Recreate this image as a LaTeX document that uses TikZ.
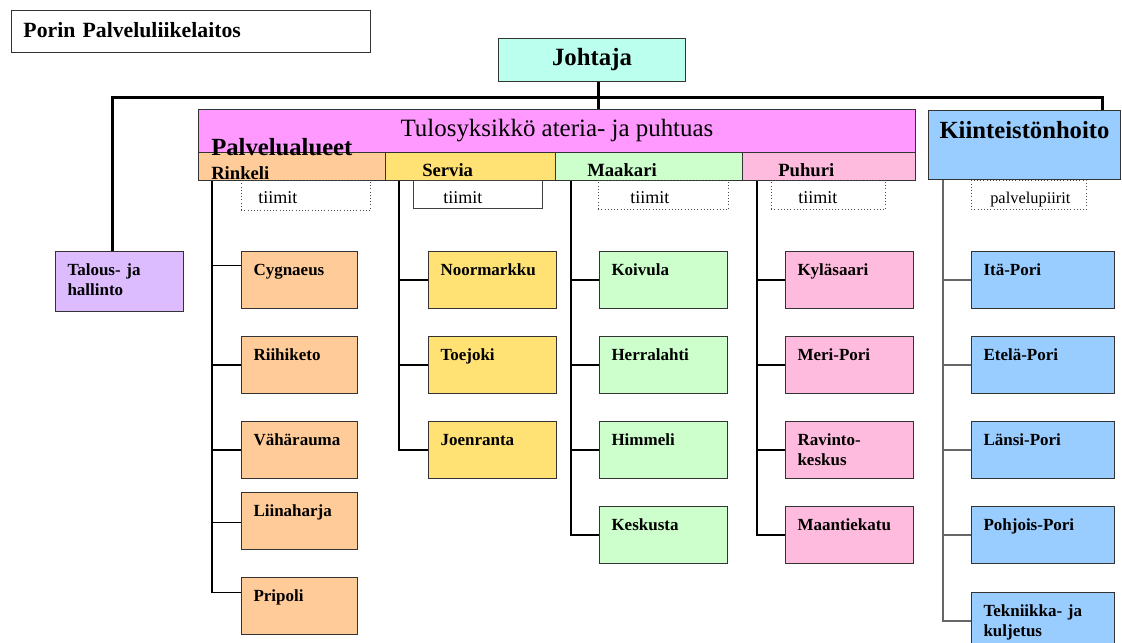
\documentclass[tikz,border=0pt]{standalone}
\usepackage{fontspec}
\setmainfont{Liberation Serif}
\usetikzlibrary{positioning}
\usetikzlibrary{calc}

\definecolor{johtajafill}{RGB}{187,255,238}
\definecolor{tulosfill}{RGB}{255,153,255}
\definecolor{rinkelifill}{RGB}{255,204,153}
\definecolor{serviafill}{RGB}{255,226,115}
\definecolor{maakarifill}{RGB}{204,255,204}
\definecolor{puhurifill}{RGB}{255,187,221}
\definecolor{kiintfill}{RGB}{153,204,255}
\definecolor{talousfill}{RGB}{221,187,255}

\tikzset{
  unitbox/.style={draw=black!80, line width=0.75pt, anchor=north west,
    inner xsep=9pt, inner ysep=0pt, align=left,
    text height=18pt, text depth=24.75pt,
    font=\fontsize{12.75}{15}\selectfont\bfseries},
  headbox/.style={draw=black!80, line width=0.75pt, anchor=north west,
    inner sep=0pt, minimum height=21pt},
  sublabel/.style={anchor=base west, inner sep=0pt,
    font=\fontsize{14}{16}\selectfont\bfseries},
  teamtag/.style={anchor=north west, inner ysep=0pt, align=left,
    text height=17.25pt, text depth=4.5pt,
    font=\fontsize{13.5}{15}\selectfont},
  busline/.style={line width=2.25pt, black},
  branch/.style={line width=0.9pt, black}
}

\begin{document}
\begin{tikzpicture}[x=0.75pt,y=-0.75pt]
  \useasboundingbox (0,0) rectangle (1122,643);

  % top of the chart
  \node[draw=black!80, line width=0.75pt, anchor=north west, inner xsep=9pt,
    inner ysep=0pt, align=left, text width=251.25pt, text height=20.25pt,
    text depth=11.25pt, font=\fontsize{16.3}{18}\selectfont\bfseries]
    (porin) at (11,10) {Porin Palveluliikelaitos};
  \node[draw=black!80, line width=0.75pt, fill=johtajafill, anchor=north west,
    inner sep=0pt, minimum width=140.25pt, minimum height=32.25pt,
    font=\fontsize{18.6}{20}\selectfont\bfseries]
    (johtaja) at (498,38) {Johtaja};

  \node[headbox, fill=tulosfill, minimum width=537.75pt, minimum height=32.25pt,
    font=\fontsize{18.7}{20}\selectfont] (tulos) at (198,109)
    {Tulosyksikkö ateria- ja puhtuas};
  \node[headbox, fill=rinkelifill, minimum width=140.25pt] (rinkeli) at (198,152) {};
  \node[headbox, fill=serviafill, minimum width=127.5pt] (servia) at (385,152) {};
  \node[headbox, fill=maakarifill, minimum width=140.25pt] (maakari) at (555,152) {};
  \node[headbox, fill=puhurifill, minimum width=129.75pt] (puhuri) at (742,152) {};
  \node[sublabel, font=\fontsize{18.5}{20}\selectfont\bfseries] (palvelu) at (211,155) {Palvelualueet};
  \node[sublabel] (rinkelitxt) at (211,179) {Rinkeli};
  \node[sublabel] (serviatxt) at (422,176) {Servia};
  \node[sublabel] (maakaritxt) at (587,176) {Maakari};
  \node[sublabel] (puhuritxt) at (778,176) {Puhuri};

  \node[draw=black!80, line width=0.75pt, fill=kiintfill, anchor=north west,
    inner sep=0pt, align=center, text width=144pt, text height=21pt,
    text depth=30.75pt, font=\fontsize{18.5}{20}\selectfont\bfseries]
    (kiint) at (928,110) {Kiinteistönhoito};

  \node[unitbox, fill=talousfill, text width=78pt, text depth=27pt]
    (talous) at (55,251) {Talous- ja\\hallinto};

  % tiimit
  \node[teamtag, draw=black!70, dotted, inner xsep=12.75pt, text width=71.25pt,
    text depth=5.25pt] (rtiimit) at (241,180) {tiimit};
  \node[teamtag, draw=black!75, inner xsep=22.5pt, text width=51.75pt,
    text depth=3.75pt] (stiimit) at (413,180) {tiimit};
  \node[teamtag, draw=black!70, dotted, inner xsep=24pt, text width=49.5pt]
    (mtiimit) at (598,180) {tiimit};
  \node[teamtag, draw=black!70, dotted, inner xsep=20.25pt, text width=45pt]
    (ptiimit) at (771,180) {tiimit};
  \node[teamtag, draw=black!70, dotted, inner xsep=14.25pt, text width=57.75pt,
    font=\fontsize{12.3}{14}\selectfont] (kpiirit) at (971,180) {palvelupiirit};

  % units
  \foreach \n/\t/\y in {cygnaeus/Cygnaeus/251, riihiketo/Riihiketo/336,
      vaharauma/Vähärauma/421, liinaharja/Liinaharja/492, pripoli/Pripoli/577}
    \node[unitbox, fill=rinkelifill, text width=69pt] (\n) at (241,\y) {\t};
  \foreach \n/\t/\y in {noormarkku/Noormarkku/251, toejoki/Toejoki/336, joenranta/Joenranta/421}
    \node[unitbox, fill=serviafill, text width=78pt] (\n) at (428,\y) {\t};
  \foreach \n/\t/\y in {koivula/Koivula/251, herralahti/Herralahti/336, himmeli/Himmeli/421,
      keskusta/Keskusta/506}
    \node[unitbox, fill=maakarifill, text width=78pt] (\n) at (599,\y) {\t};
  \foreach \n/\t/\y in {kylasaari/Kyläsaari/251, meripori/Meri-Pori/336,
      ravinto/{Ravinto-\\keskus}/421, maantiekatu/Maantiekatu/506}
    \node[unitbox, fill=puhurifill, text width=78pt] (\n) at (785,\y) {\t};
  \foreach \n/\t/\y in {itapori/Itä-Pori/251, etelapori/Etelä-Pori/336, lansipori/Länsi-Pori/421,
      pohjoispori/Pohjois-Pori/506, tekniikka/{Tekniikka- ja\\kuljetus}/592}
    \node[unitbox, fill=kiintfill, text width=89.25pt] (\n) at (971,\y) {\t};

  % thick lines from Johtaja
  \path ([xshift=4.5pt]johtaja.south) ++(0,15) coordinate (bus);
  \coordinate (talousin) at ([xshift=-5pt]talous.north);
  \coordinate (kiintin) at ([xshift=-14.25pt]kiint.north east);
  \draw[busline] (johtaja.south -| bus) -- (bus);
  \draw[busline] (talousin) -- (talousin |- bus) -- (kiintin |- bus) -- (kiintin);
  \draw[busline] (bus) -- (tulos.north -| bus);

  % trunks and branches
  \coordinate (rtop) at ([xshift=10.5pt]rinkeli.south west);
  \draw[branch] (rtop) |- ($(pripoli.west)+(0,-13.5)$);
  \foreach \n/\dy in {cygnaeus/-14.5, riihiketo/0, vaharauma/0, liinaharja/1.5}
    \draw[branch] ($(\n.west)+(0,\dy)$) -- ++(-29,0);

  \coordinate (stop) at ([xshift=10.5pt]servia.south west);
  \draw[branch] (stop) |- (joenranta.west);
  \foreach \n in {noormarkku, toejoki}
    \draw[branch] (\n.west) -- ++(-29,0);

  \coordinate (mtop) at ([xshift=12pt]maakari.south west);
  \draw[branch] (mtop) |- (keskusta.west);
  \foreach \n in {koivula, herralahti, himmeli}
    \draw[branch] (\n.west) -- ++(-28,0);

  \coordinate (ptop) at ([xshift=11.25pt]puhuri.south west);
  \draw[branch] (ptop) |- (maantiekatu.west);
  \foreach \n in {kylasaari, meripori, ravinto}
    \draw[branch] (\n.west) -- ++(-28,0);

  \coordinate (ktop) at ([xshift=11.25pt]kiint.south west);
  \draw[line width=1.3pt, black!60] (ktop) |- (tekniikka.west);
  \foreach \n in {itapori, etelapori, lansipori, pohjoispori}
    \draw[branch, black!60] (\n.west) -- ++(-28,0);
\end{tikzpicture}
\end{document}
